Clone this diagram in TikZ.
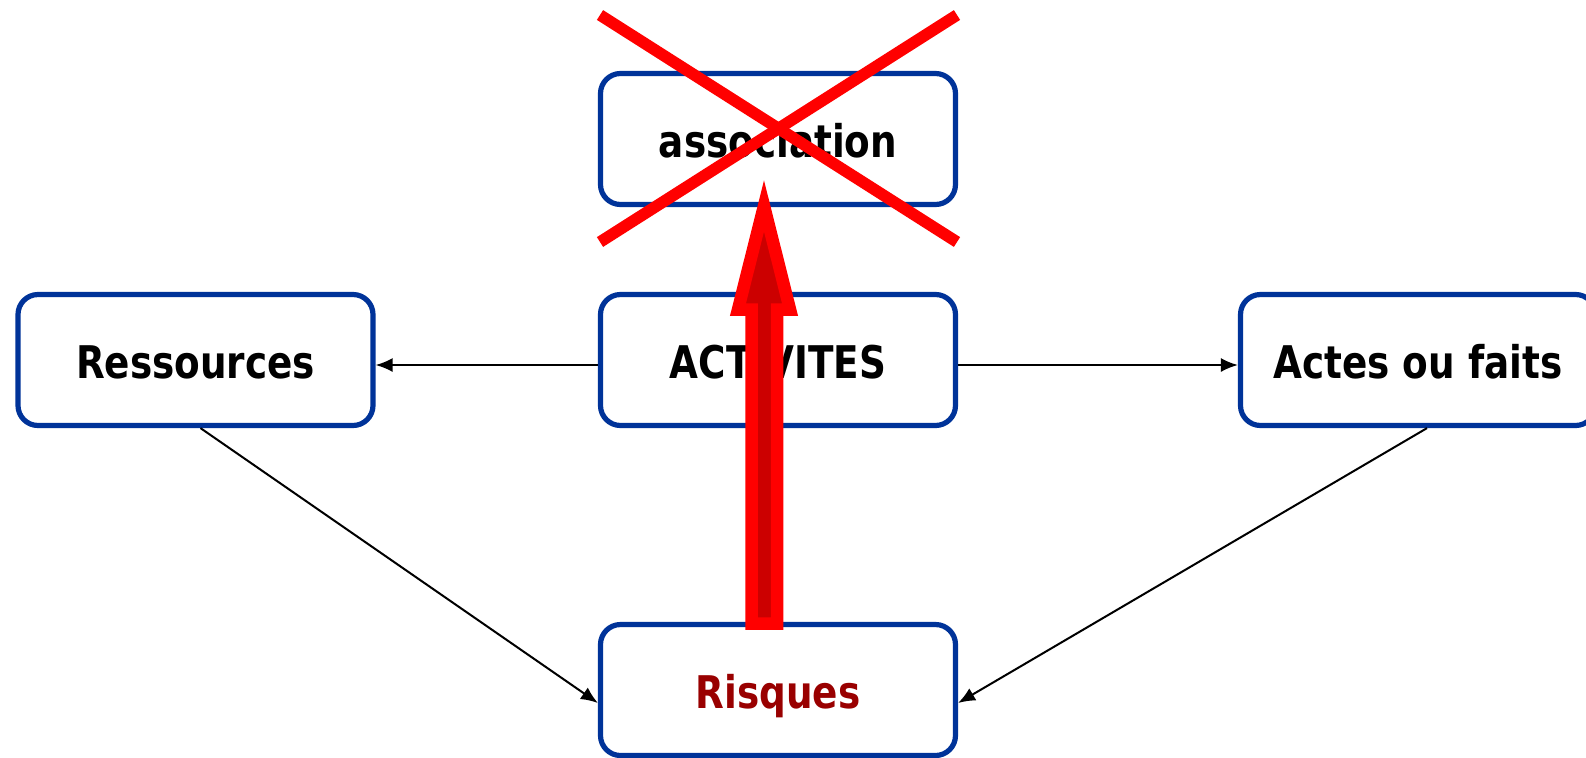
\documentclass[tikz,border=0pt]{standalone}
\usepackage{fontspec}
\setmainfont{DejaVu Sans}[FakeStretch=0.83]
\usetikzlibrary{arrows.meta}
\definecolor{boxblue}{RGB}{0,51,153}
\definecolor{arrowdark}{RGB}{204,0,0}
\definecolor{riskred}{RGB}{153,0,0}
\begin{document}
\begin{tikzpicture}[x=0.5pt,y=-0.5pt,
  box/.style={draw=boxblue, line width=2.6pt, rounded corners=10pt,
    minimum width=177.5pt, minimum height=65.5pt, inner sep=0pt, fill=white,
    text height=18pt, text depth=0pt,
    font=\fontsize{22.5pt}{27pt}\selectfont\bfseries},
  link/.style={line width=1pt, -{Latex[length=8.5pt,width=7pt]}},
  cross/.style={draw=red, line width=5.8pt},
  bigarrow/.style={draw=red, fill=arrowdark, line width=6.25pt, miter limit=10}]
\useasboundingbox (0,0) rectangle (1586,757);

\node[box] (assoc) at (778,139) {association};
\node[box] (res) at (195.5,360) {Ressources};
\node[box] (act) at (778,360) {ACTIVITES};
\node[box] (faits) at (1418,360) {Actes ou faits};
\node[box, text=riskred] (risk) at (778,690) {Risques};

\draw[link] ([yshift=-2.5pt]act.west) -- ([yshift=-2.5pt]res.east);
\draw[link] ([yshift=-2.5pt]act.east) -- ([yshift=-2.5pt]faits.west);
\draw[link] ([xshift=2.5pt]res.south) -- ([yshift=-6.5pt]risk.west);
\draw[link] ([xshift=4.5pt]faits.south) -- ([yshift=-6.5pt]risk.east);

\draw[cross] (600,15) -- (957,242);
\draw[cross] (600,242) -- (957,15);

\draw[bigarrow] (751.5,623.5) -- (751.5,309.5) -- (738,309.5) -- (764,206)
  -- (790,309.5) -- (777,309.5) -- (777,623.5) -- cycle;
\end{tikzpicture}
\end{document}
